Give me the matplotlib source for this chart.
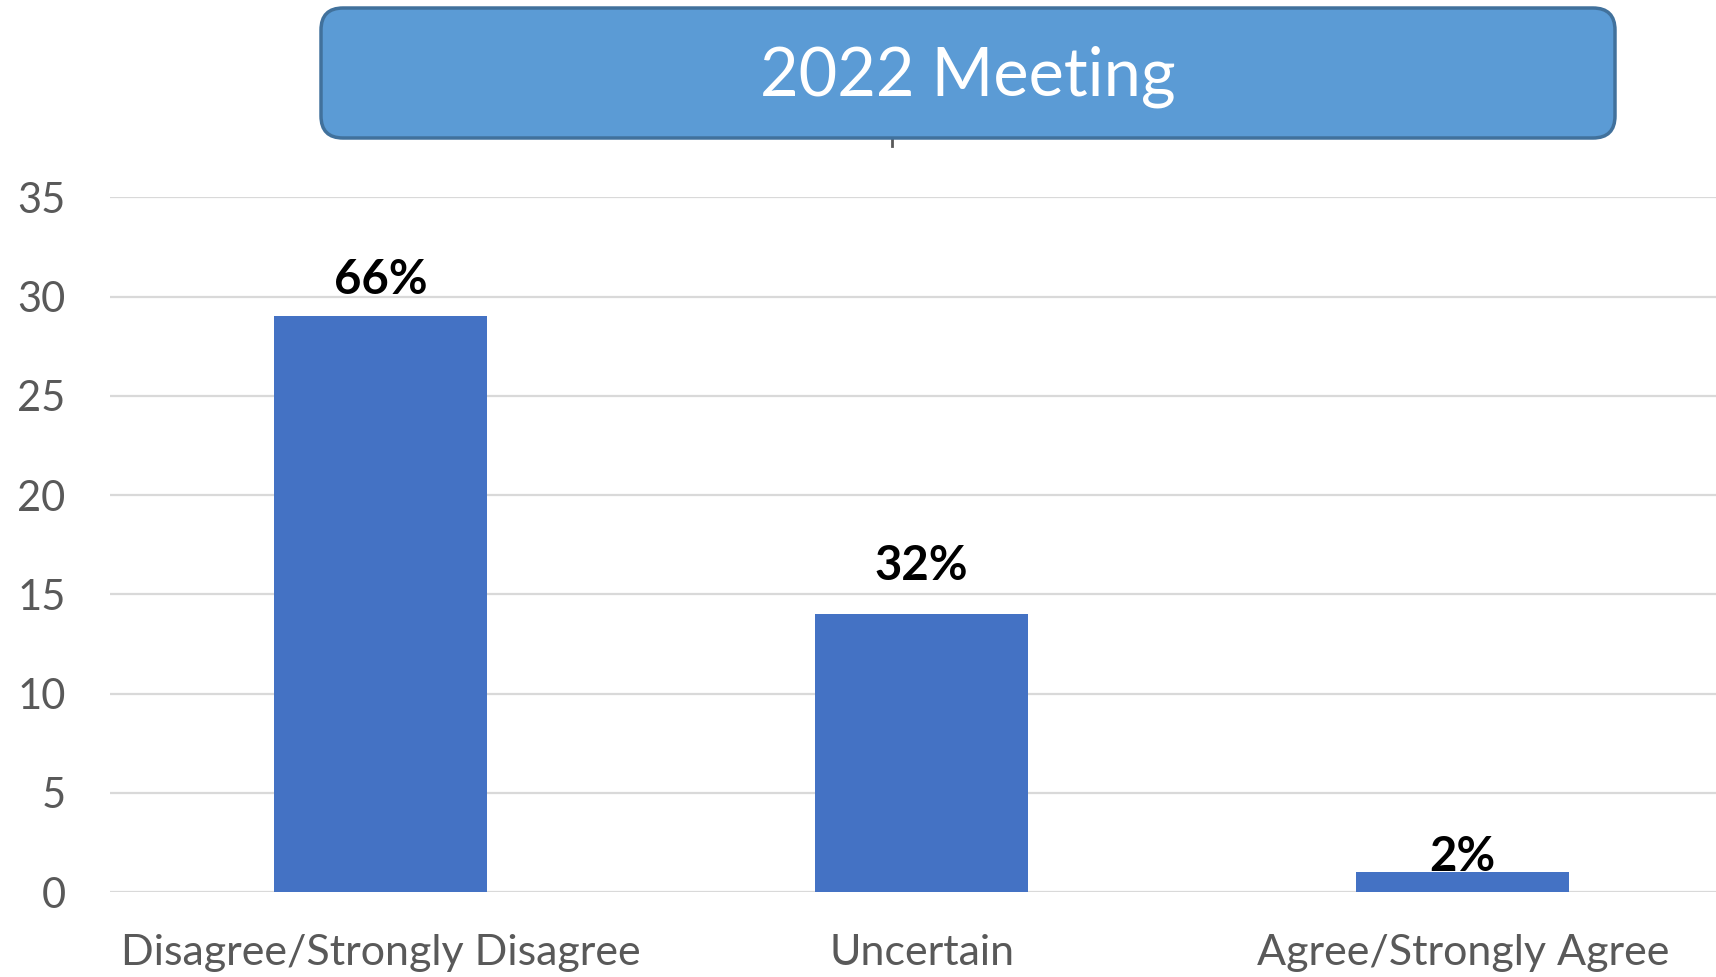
import matplotlib.pyplot as plt
from matplotlib.patches import FancyBboxPatch
from matplotlib.lines import Line2D

# datos del grafico
categories = ["Disagree/Strongly Disagree", "Uncertain", "Agree/Strongly Agree"]
counts = [29, 14, 1]
pct_labels = ["66%", "32%", "2%"]
yticks = [0, 5, 10, 15, 20, 25, 30, 35]
title = "2022 Meeting"

# desplazamiento de cada etiqueta (puntos), como en el original
label_offsets = [26, 35, 11]

plt.rcParams['font.family'] = ['Lato', 'DejaVu Sans']

fig = plt.figure(figsize=(17.16, 9.77), dpi=100)
# el area del grafico se sale un poco por la derecha, igual que en la imagen
ax = fig.add_axes([0.0641, 0.087, 0.946, 0.711])

x = range(len(categories))
bars = ax.bar(x, counts, width=0.393, color='#4472C4', zorder=3)

for b, lab, off in zip(bars, pct_labels, label_offsets):
    ax.annotate(lab, (b.get_x() + b.get_width() / 2, b.get_height()),
                xytext=(0, off), textcoords='offset points',
                ha='center', va='center', fontsize=34, fontweight='bold',
                color='black', zorder=4)

ax.set_xlim(-0.5, len(categories) - 0.5)
ax.set_ylim(0, 35)
ax.set_yticks(yticks)
ax.set_xticks(list(x))
ax.set_xticklabels(categories)
ax.tick_params(axis='y', length=0, pad=32, labelsize=30, labelcolor='#595959')
ax.tick_params(axis='x', length=0, pad=30, labelsize=31, labelcolor='#595959')
ax.grid(axis='y', color='#D9D9D9', linewidth=1.6, zorder=0)
for s in ax.spines.values():
    s.set_visible(False)

# caja del titulo (en pixeles)
box = FancyBboxPatch((321, 977 - 138), 1294, 130,
                     boxstyle="round,pad=0,rounding_size=22",
                     transform=None, facecolor='#5B9BD5', edgecolor='#41719C',
                     linewidth=2.5, zorder=5)
fig.patches.append(box)
fig.text(968 / 1716, 1 - 77 / 977, title, ha='center', va='center',
         fontsize=48, color='white', zorder=6)
# restito del titulo original que asoma bajo la caja
fig.lines.append(Line2D([892, 892], [977 - 139, 977 - 146], transform=None,
                        color='#595959', linewidth=2))

fig.savefig('out.png', dpi=100)
